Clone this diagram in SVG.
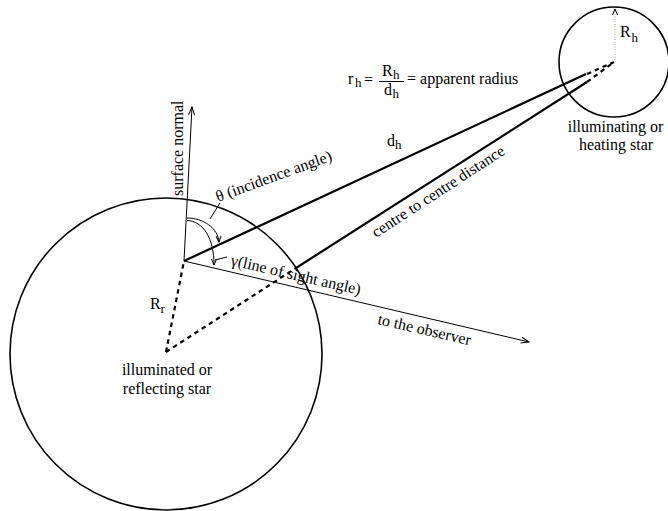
<svg xmlns="http://www.w3.org/2000/svg" width="668" height="511" viewBox="0 0 668 511">
<style>
text{font-family:"Liberation Serif","Times New Roman",serif;font-size:16px;fill:#000}
.sub{font-size:13px}
.thin{stroke:#000;stroke-width:1;fill:none}
.thick{stroke:#000;stroke-width:2.2;fill:none}
.dash{stroke:#000;stroke-width:2.2;fill:none;stroke-dasharray:4.5 4}
.star{stroke:#000;stroke-width:1.6;fill:none}
</style>
<defs>
<marker id="arr" markerWidth="10" markerHeight="8" refX="9" refY="4" orient="auto" markerUnits="userSpaceOnUse">
<path d="M1,1 L9,4 L1,7" fill="none" stroke="#000" stroke-width="1"/>
</marker>
<marker id="arrs" markerWidth="8" markerHeight="7" refX="7" refY="3.5" orient="auto" markerUnits="userSpaceOnUse">
<path d="M1,1 L7,3.5 L1,6" fill="none" stroke="#000" stroke-width="1"/>
</marker>
</defs>
<g id="reflecting-star">
<circle class="star" cx="166" cy="354" r="156"/>
<text x="167" y="375" text-anchor="middle">illuminated or</text>
<text x="167" y="394" text-anchor="middle">reflecting star</text>
</g>
<g id="heating-star">
<circle class="star" cx="614" cy="62" r="55"/>
<text x="615.5" y="132" text-anchor="middle">illuminating or</text>
<text x="616" y="150" text-anchor="middle">heating star</text>
<line x1="615" y1="60" x2="615" y2="9" stroke="#aaa" stroke-width="1" stroke-dasharray="1 1.5" marker-end="url(#arrs)"/>
<text x="620" y="37">R</text><text class="sub" x="631.5" y="42">h</text>
</g>
<g id="formula">
<text x="348" y="84">r</text><text class="sub" x="355" y="87">h</text>
<text x="364" y="85">=</text>
<text x="382" y="76">R</text><text class="sub" x="393" y="79">h</text>
<line x1="379" y1="81.5" x2="404" y2="81.5" stroke="#000" stroke-width="1"/>
<text x="384" y="95">d</text><text class="sub" x="392.5" y="98">h</text>
<text x="407" y="84">= apparent radius</text>
</g>
<g id="connectors">
<line class="thin" x1="184" y1="261" x2="192" y2="107" marker-end="url(#arr)"/>
<line class="thin" x1="184" y1="261" x2="529" y2="342" marker-end="url(#arr)"/>
<line class="thick" x1="184" y1="261" x2="586" y2="74"/>
<line class="dash" x1="587" y1="74" x2="614" y2="62"/>
<line class="dash" x1="166" y1="352" x2="296" y2="268"/>
<line class="thick" x1="296" y1="268" x2="587" y2="82"/>
<line class="dash" x1="587" y1="82" x2="614" y2="62"/>
<line class="dash" x1="166" y1="352" x2="184" y2="261"/>
<path class="thin" d="M187,218 C203,218 218,228 219,242" marker-end="url(#arrs)"/>
<path class="thin" d="M187,220.5 C203,221 214,238 214,265" marker-end="url(#arrs)"/>
<line class="thin" x1="210" y1="219" x2="220" y2="203"/>
<line class="thin" x1="215" y1="260" x2="227" y2="257"/>
</g>
<g id="labels">
<text transform="translate(183,196) rotate(-90)">surface normal</text>
<text transform="translate(218,202) rotate(-20)">θ (incidence angle)</text>
<text transform="translate(230,265) rotate(13)">γ(line of sight angle)</text>
<text transform="translate(377,324) rotate(13)">to the observer</text>
<text transform="translate(376,238) rotate(-33)">centre to centre distance</text>
<text x="387" y="146">d</text><text class="sub" x="395" y="149">h</text>
<text x="150" y="309">R</text><text class="sub" x="160.5" y="313">r</text>
</g>
</svg>
